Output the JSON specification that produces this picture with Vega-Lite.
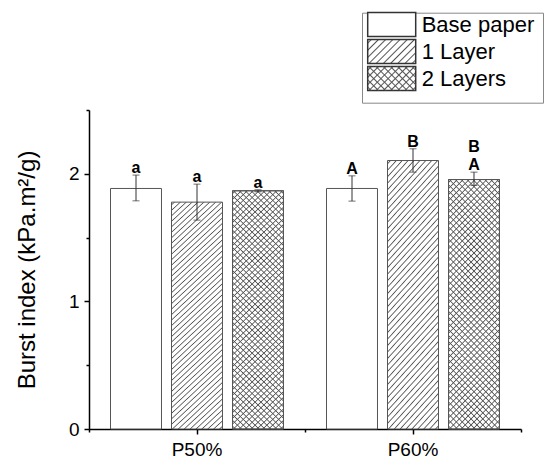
{
  "$schema": "https://vega.github.io/schema/vega-lite/v6.json",
  "width": 432,
  "height": 319,
  "autosize": "none",
  "padding": {"left": 89, "top": 110, "right": 29, "bottom": 38},
  "background": "white",
  "config": {"view": {"stroke": null}, "font": "Liberation Sans"},
  "data": {"values": [
    {"group": "P50%", "layer": "Base paper", "mean": 1.885, "lo": 1.788, "hi": 1.99, "label": "a", "label2": ""},
    {"group": "P50%", "layer": "1 Layer", "mean": 1.778, "lo": 1.637, "hi": 1.919, "label": "a", "label2": ""},
    {"group": "P50%", "layer": "2 Layers", "mean": 1.867, "lo": 1.859, "hi": 1.875, "label": "a", "label2": ""},
    {"group": "P60%", "layer": "Base paper", "mean": 1.885, "lo": 1.786, "hi": 1.984, "label": "A", "label2": ""},
    {"group": "P60%", "layer": "1 Layer", "mean": 2.104, "lo": 2.013, "hi": 2.196, "label": "B", "label2": ""},
    {"group": "P60%", "layer": "2 Layers", "mean": 1.955, "lo": 1.908, "hi": 2.013, "label": "A", "label2": "B"}
  ]},
  "resolve": {"scale": {"shape": "independent"}, "legend": {"shape": "independent"}, "axis": {"x": "independent", "y": "independent"}},
  "layer": [
    {
      "mark": {"type": "bar", "stroke": "#555", "strokeWidth": 1},
      "encoding": {
        "x": {"field": "group", "type": "nominal", "scale": {"paddingInner": 0, "paddingOuter": 0},
          "axis": {"title": null, "labelAngle": 0, "labelFontSize": 19, "labelFont": "Liberation Sans", "labelColor": "#000", "labelPadding": 6, "tickSize": 5, "tickColor": "#000", "tickWidth": 1.5, "domainColor": "#000", "domainWidth": 1.5, "grid": false, "orient": "bottom"}},
        "xOffset": {"field": "layer", "type": "nominal", "scale": {"domain": ["Base paper", "1 Layer", "2 Layers"], "paddingInner": 0.164, "paddingOuter": 0.3525}},
        "y": {"field": "mean", "type": "quantitative", "scale": {"domain": [0, 2.5], "nice": false},
          "axis": {"title": "Burst index (kPa.m²/g)", "titleFontSize": 24, "titleFont": "Liberation Sans", "titleFontWeight": "normal", "titleColor": "#000", "titlePadding": 29, "values": [0, 1, 2], "format": "d", "labelFontSize": 19, "labelFont": "Liberation Sans", "labelColor": "#000", "labelPadding": 5, "tickSize": 5, "tickColor": "#000", "tickWidth": 1.5, "domainColor": "#000", "domainWidth": 1.5, "grid": false, "orient": "left"}},
        "fill": {"condition": {"test": "datum.layer !== 'Base paper'", "value": {"gradient": "linear", "x1": 0, "y1": 0, "x2": 0.2424, "y2": 1.1586, "stops": [
          {"offset":0.006,"color":"#fff"},{"offset":0.010,"color":"#555"},{"offset":0.014,"color":"#fff"},
          {"offset":0.026,"color":"#fff"},{"offset":0.030,"color":"#555"},{"offset":0.034,"color":"#fff"},
          {"offset":0.046,"color":"#fff"},{"offset":0.050,"color":"#555"},{"offset":0.054,"color":"#fff"},
          {"offset":0.066,"color":"#fff"},{"offset":0.070,"color":"#555"},{"offset":0.074,"color":"#fff"},
          {"offset":0.086,"color":"#fff"},{"offset":0.090,"color":"#555"},{"offset":0.094,"color":"#fff"},
          {"offset":0.106,"color":"#fff"},{"offset":0.110,"color":"#555"},{"offset":0.114,"color":"#fff"},
          {"offset":0.126,"color":"#fff"},{"offset":0.130,"color":"#555"},{"offset":0.134,"color":"#fff"},
          {"offset":0.146,"color":"#fff"},{"offset":0.150,"color":"#555"},{"offset":0.154,"color":"#fff"},
          {"offset":0.166,"color":"#fff"},{"offset":0.170,"color":"#555"},{"offset":0.174,"color":"#fff"},
          {"offset":0.186,"color":"#fff"},{"offset":0.190,"color":"#555"},{"offset":0.194,"color":"#fff"},
          {"offset":0.206,"color":"#fff"},{"offset":0.210,"color":"#555"},{"offset":0.214,"color":"#fff"},
          {"offset":0.226,"color":"#fff"},{"offset":0.230,"color":"#555"},{"offset":0.234,"color":"#fff"},
          {"offset":0.246,"color":"#fff"},{"offset":0.250,"color":"#555"},{"offset":0.254,"color":"#fff"},
          {"offset":0.266,"color":"#fff"},{"offset":0.270,"color":"#555"},{"offset":0.274,"color":"#fff"},
          {"offset":0.286,"color":"#fff"},{"offset":0.290,"color":"#555"},{"offset":0.294,"color":"#fff"},
          {"offset":0.306,"color":"#fff"},{"offset":0.310,"color":"#555"},{"offset":0.314,"color":"#fff"},
          {"offset":0.326,"color":"#fff"},{"offset":0.330,"color":"#555"},{"offset":0.334,"color":"#fff"},
          {"offset":0.346,"color":"#fff"},{"offset":0.350,"color":"#555"},{"offset":0.354,"color":"#fff"},
          {"offset":0.366,"color":"#fff"},{"offset":0.370,"color":"#555"},{"offset":0.374,"color":"#fff"},
          {"offset":0.386,"color":"#fff"},{"offset":0.390,"color":"#555"},{"offset":0.394,"color":"#fff"},
          {"offset":0.406,"color":"#fff"},{"offset":0.410,"color":"#555"},{"offset":0.414,"color":"#fff"},
          {"offset":0.426,"color":"#fff"},{"offset":0.430,"color":"#555"},{"offset":0.434,"color":"#fff"},
          {"offset":0.446,"color":"#fff"},{"offset":0.450,"color":"#555"},{"offset":0.454,"color":"#fff"},
          {"offset":0.466,"color":"#fff"},{"offset":0.470,"color":"#555"},{"offset":0.474,"color":"#fff"},
          {"offset":0.486,"color":"#fff"},{"offset":0.490,"color":"#555"},{"offset":0.494,"color":"#fff"},
          {"offset":0.506,"color":"#fff"},{"offset":0.510,"color":"#555"},{"offset":0.514,"color":"#fff"},
          {"offset":0.526,"color":"#fff"},{"offset":0.530,"color":"#555"},{"offset":0.534,"color":"#fff"},
          {"offset":0.546,"color":"#fff"},{"offset":0.550,"color":"#555"},{"offset":0.554,"color":"#fff"},
          {"offset":0.566,"color":"#fff"},{"offset":0.570,"color":"#555"},{"offset":0.574,"color":"#fff"},
          {"offset":0.586,"color":"#fff"},{"offset":0.590,"color":"#555"},{"offset":0.594,"color":"#fff"},
          {"offset":0.606,"color":"#fff"},{"offset":0.610,"color":"#555"},{"offset":0.614,"color":"#fff"},
          {"offset":0.626,"color":"#fff"},{"offset":0.630,"color":"#555"},{"offset":0.634,"color":"#fff"},
          {"offset":0.646,"color":"#fff"},{"offset":0.650,"color":"#555"},{"offset":0.654,"color":"#fff"},
          {"offset":0.666,"color":"#fff"},{"offset":0.670,"color":"#555"},{"offset":0.674,"color":"#fff"},
          {"offset":0.686,"color":"#fff"},{"offset":0.690,"color":"#555"},{"offset":0.694,"color":"#fff"},
          {"offset":0.706,"color":"#fff"},{"offset":0.710,"color":"#555"},{"offset":0.714,"color":"#fff"},
          {"offset":0.726,"color":"#fff"},{"offset":0.730,"color":"#555"},{"offset":0.734,"color":"#fff"},
          {"offset":0.746,"color":"#fff"},{"offset":0.750,"color":"#555"},{"offset":0.754,"color":"#fff"},
          {"offset":0.766,"color":"#fff"},{"offset":0.770,"color":"#555"},{"offset":0.774,"color":"#fff"},
          {"offset":0.786,"color":"#fff"},{"offset":0.790,"color":"#555"},{"offset":0.794,"color":"#fff"},
          {"offset":0.806,"color":"#fff"},{"offset":0.810,"color":"#555"},{"offset":0.814,"color":"#fff"},
          {"offset":0.826,"color":"#fff"},{"offset":0.830,"color":"#555"},{"offset":0.834,"color":"#fff"},
          {"offset":0.846,"color":"#fff"},{"offset":0.850,"color":"#555"},{"offset":0.854,"color":"#fff"},
          {"offset":0.866,"color":"#fff"},{"offset":0.870,"color":"#555"},{"offset":0.874,"color":"#fff"},
          {"offset":0.886,"color":"#fff"},{"offset":0.890,"color":"#555"},{"offset":0.894,"color":"#fff"},
          {"offset":0.906,"color":"#fff"},{"offset":0.910,"color":"#555"},{"offset":0.914,"color":"#fff"},
          {"offset":0.926,"color":"#fff"},{"offset":0.930,"color":"#555"},{"offset":0.934,"color":"#fff"},
          {"offset":0.946,"color":"#fff"},{"offset":0.950,"color":"#555"},{"offset":0.954,"color":"#fff"},
          {"offset":0.966,"color":"#fff"},{"offset":0.970,"color":"#555"},{"offset":0.974,"color":"#fff"},
          {"offset":0.986,"color":"#fff"},{"offset":0.990,"color":"#555"},{"offset":0.994,"color":"#fff"}
        ]}}, "value": "#ffffff"}
      }
    },
    {
      "transform": [{"filter": "datum.layer === '2 Layers'"}],
      "mark": {"type": "bar", "stroke": "#555", "strokeWidth": 1, "fill": {"gradient": "linear", "x1": 0, "y1": 1, "x2": 0.2424, "y2": -0.1586, "stops": [
          {"offset":0.006,"color":"rgba(85,85,85,0)"},{"offset":0.010,"color":"#555"},{"offset":0.014,"color":"rgba(85,85,85,0)"},
          {"offset":0.026,"color":"rgba(85,85,85,0)"},{"offset":0.030,"color":"#555"},{"offset":0.034,"color":"rgba(85,85,85,0)"},
          {"offset":0.046,"color":"rgba(85,85,85,0)"},{"offset":0.050,"color":"#555"},{"offset":0.054,"color":"rgba(85,85,85,0)"},
          {"offset":0.066,"color":"rgba(85,85,85,0)"},{"offset":0.070,"color":"#555"},{"offset":0.074,"color":"rgba(85,85,85,0)"},
          {"offset":0.086,"color":"rgba(85,85,85,0)"},{"offset":0.090,"color":"#555"},{"offset":0.094,"color":"rgba(85,85,85,0)"},
          {"offset":0.106,"color":"rgba(85,85,85,0)"},{"offset":0.110,"color":"#555"},{"offset":0.114,"color":"rgba(85,85,85,0)"},
          {"offset":0.126,"color":"rgba(85,85,85,0)"},{"offset":0.130,"color":"#555"},{"offset":0.134,"color":"rgba(85,85,85,0)"},
          {"offset":0.146,"color":"rgba(85,85,85,0)"},{"offset":0.150,"color":"#555"},{"offset":0.154,"color":"rgba(85,85,85,0)"},
          {"offset":0.166,"color":"rgba(85,85,85,0)"},{"offset":0.170,"color":"#555"},{"offset":0.174,"color":"rgba(85,85,85,0)"},
          {"offset":0.186,"color":"rgba(85,85,85,0)"},{"offset":0.190,"color":"#555"},{"offset":0.194,"color":"rgba(85,85,85,0)"},
          {"offset":0.206,"color":"rgba(85,85,85,0)"},{"offset":0.210,"color":"#555"},{"offset":0.214,"color":"rgba(85,85,85,0)"},
          {"offset":0.226,"color":"rgba(85,85,85,0)"},{"offset":0.230,"color":"#555"},{"offset":0.234,"color":"rgba(85,85,85,0)"},
          {"offset":0.246,"color":"rgba(85,85,85,0)"},{"offset":0.250,"color":"#555"},{"offset":0.254,"color":"rgba(85,85,85,0)"},
          {"offset":0.266,"color":"rgba(85,85,85,0)"},{"offset":0.270,"color":"#555"},{"offset":0.274,"color":"rgba(85,85,85,0)"},
          {"offset":0.286,"color":"rgba(85,85,85,0)"},{"offset":0.290,"color":"#555"},{"offset":0.294,"color":"rgba(85,85,85,0)"},
          {"offset":0.306,"color":"rgba(85,85,85,0)"},{"offset":0.310,"color":"#555"},{"offset":0.314,"color":"rgba(85,85,85,0)"},
          {"offset":0.326,"color":"rgba(85,85,85,0)"},{"offset":0.330,"color":"#555"},{"offset":0.334,"color":"rgba(85,85,85,0)"},
          {"offset":0.346,"color":"rgba(85,85,85,0)"},{"offset":0.350,"color":"#555"},{"offset":0.354,"color":"rgba(85,85,85,0)"},
          {"offset":0.366,"color":"rgba(85,85,85,0)"},{"offset":0.370,"color":"#555"},{"offset":0.374,"color":"rgba(85,85,85,0)"},
          {"offset":0.386,"color":"rgba(85,85,85,0)"},{"offset":0.390,"color":"#555"},{"offset":0.394,"color":"rgba(85,85,85,0)"},
          {"offset":0.406,"color":"rgba(85,85,85,0)"},{"offset":0.410,"color":"#555"},{"offset":0.414,"color":"rgba(85,85,85,0)"},
          {"offset":0.426,"color":"rgba(85,85,85,0)"},{"offset":0.430,"color":"#555"},{"offset":0.434,"color":"rgba(85,85,85,0)"},
          {"offset":0.446,"color":"rgba(85,85,85,0)"},{"offset":0.450,"color":"#555"},{"offset":0.454,"color":"rgba(85,85,85,0)"},
          {"offset":0.466,"color":"rgba(85,85,85,0)"},{"offset":0.470,"color":"#555"},{"offset":0.474,"color":"rgba(85,85,85,0)"},
          {"offset":0.486,"color":"rgba(85,85,85,0)"},{"offset":0.490,"color":"#555"},{"offset":0.494,"color":"rgba(85,85,85,0)"},
          {"offset":0.506,"color":"rgba(85,85,85,0)"},{"offset":0.510,"color":"#555"},{"offset":0.514,"color":"rgba(85,85,85,0)"},
          {"offset":0.526,"color":"rgba(85,85,85,0)"},{"offset":0.530,"color":"#555"},{"offset":0.534,"color":"rgba(85,85,85,0)"},
          {"offset":0.546,"color":"rgba(85,85,85,0)"},{"offset":0.550,"color":"#555"},{"offset":0.554,"color":"rgba(85,85,85,0)"},
          {"offset":0.566,"color":"rgba(85,85,85,0)"},{"offset":0.570,"color":"#555"},{"offset":0.574,"color":"rgba(85,85,85,0)"},
          {"offset":0.586,"color":"rgba(85,85,85,0)"},{"offset":0.590,"color":"#555"},{"offset":0.594,"color":"rgba(85,85,85,0)"},
          {"offset":0.606,"color":"rgba(85,85,85,0)"},{"offset":0.610,"color":"#555"},{"offset":0.614,"color":"rgba(85,85,85,0)"},
          {"offset":0.626,"color":"rgba(85,85,85,0)"},{"offset":0.630,"color":"#555"},{"offset":0.634,"color":"rgba(85,85,85,0)"},
          {"offset":0.646,"color":"rgba(85,85,85,0)"},{"offset":0.650,"color":"#555"},{"offset":0.654,"color":"rgba(85,85,85,0)"},
          {"offset":0.666,"color":"rgba(85,85,85,0)"},{"offset":0.670,"color":"#555"},{"offset":0.674,"color":"rgba(85,85,85,0)"},
          {"offset":0.686,"color":"rgba(85,85,85,0)"},{"offset":0.690,"color":"#555"},{"offset":0.694,"color":"rgba(85,85,85,0)"},
          {"offset":0.706,"color":"rgba(85,85,85,0)"},{"offset":0.710,"color":"#555"},{"offset":0.714,"color":"rgba(85,85,85,0)"},
          {"offset":0.726,"color":"rgba(85,85,85,0)"},{"offset":0.730,"color":"#555"},{"offset":0.734,"color":"rgba(85,85,85,0)"},
          {"offset":0.746,"color":"rgba(85,85,85,0)"},{"offset":0.750,"color":"#555"},{"offset":0.754,"color":"rgba(85,85,85,0)"},
          {"offset":0.766,"color":"rgba(85,85,85,0)"},{"offset":0.770,"color":"#555"},{"offset":0.774,"color":"rgba(85,85,85,0)"},
          {"offset":0.786,"color":"rgba(85,85,85,0)"},{"offset":0.790,"color":"#555"},{"offset":0.794,"color":"rgba(85,85,85,0)"},
          {"offset":0.806,"color":"rgba(85,85,85,0)"},{"offset":0.810,"color":"#555"},{"offset":0.814,"color":"rgba(85,85,85,0)"},
          {"offset":0.826,"color":"rgba(85,85,85,0)"},{"offset":0.830,"color":"#555"},{"offset":0.834,"color":"rgba(85,85,85,0)"},
          {"offset":0.846,"color":"rgba(85,85,85,0)"},{"offset":0.850,"color":"#555"},{"offset":0.854,"color":"rgba(85,85,85,0)"},
          {"offset":0.866,"color":"rgba(85,85,85,0)"},{"offset":0.870,"color":"#555"},{"offset":0.874,"color":"rgba(85,85,85,0)"},
          {"offset":0.886,"color":"rgba(85,85,85,0)"},{"offset":0.890,"color":"#555"},{"offset":0.894,"color":"rgba(85,85,85,0)"},
          {"offset":0.906,"color":"rgba(85,85,85,0)"},{"offset":0.910,"color":"#555"},{"offset":0.914,"color":"rgba(85,85,85,0)"},
          {"offset":0.926,"color":"rgba(85,85,85,0)"},{"offset":0.930,"color":"#555"},{"offset":0.934,"color":"rgba(85,85,85,0)"},
          {"offset":0.946,"color":"rgba(85,85,85,0)"},{"offset":0.950,"color":"#555"},{"offset":0.954,"color":"rgba(85,85,85,0)"},
          {"offset":0.966,"color":"rgba(85,85,85,0)"},{"offset":0.970,"color":"#555"},{"offset":0.974,"color":"rgba(85,85,85,0)"},
          {"offset":0.986,"color":"rgba(85,85,85,0)"},{"offset":0.990,"color":"#555"},{"offset":0.994,"color":"rgba(85,85,85,0)"}
        ]}},
      "encoding": {
        "x": {"field": "group", "type": "nominal", "axis": null},
        "xOffset": {"field": "layer", "type": "nominal", "scale": {"domain": ["Base paper", "1 Layer", "2 Layers"], "paddingInner": 0.164, "paddingOuter": 0.3525}},
        "y": {"field": "mean", "type": "quantitative", "scale": {"domain": [0, 2.5], "nice": false}, "axis": null}
      }
    },
    {
      "mark": {"type": "rule", "color": "#333", "strokeWidth": 1},
      "encoding": {
        "x": {"field": "group", "type": "nominal", "axis": {"title": null, "labels": false, "domain": false, "tickBand": "extent", "tickSize": 3, "tickColor": "#000", "tickWidth": 1.5, "grid": false, "orient": "bottom"}},
        "xOffset": {"field": "layer", "type": "nominal", "scale": {"domain": ["Base paper", "1 Layer", "2 Layers"], "paddingInner": 0.164, "paddingOuter": 0.3525}},
        "y": {"field": "lo", "type": "quantitative", "scale": {"domain": [0, 2.5], "nice": false}, "axis": {"title": null, "values": [0.5, 1.5, 2.5], "labels": false, "domain": false, "tickSize": 3, "tickColor": "#000", "tickWidth": 1.5, "grid": false, "orient": "left"}},
        "y2": {"field": "hi"}
      }
    },
    {
      "mark": {"type": "tick", "size": 7, "thickness": 1, "color": "#333"},
      "encoding": {
        "x": {"field": "group", "type": "nominal", "axis": null},
        "xOffset": {"field": "layer", "type": "nominal", "scale": {"domain": ["Base paper", "1 Layer", "2 Layers"], "paddingInner": 0.164, "paddingOuter": 0.3525}},
        "y": {"field": "hi", "type": "quantitative", "scale": {"domain": [0, 2.5], "nice": false}, "axis": null}
      }
    },
    {
      "mark": {"type": "tick", "size": 7, "thickness": 1, "color": "#333"},
      "encoding": {
        "x": {"field": "group", "type": "nominal", "axis": null},
        "xOffset": {"field": "layer", "type": "nominal", "scale": {"domain": ["Base paper", "1 Layer", "2 Layers"], "paddingInner": 0.164, "paddingOuter": 0.3525}},
        "y": {"field": "lo", "type": "quantitative", "scale": {"domain": [0, 2.5], "nice": false}, "axis": null}
      }
    },
    {
      "mark": {"type": "text", "font": "Liberation Sans", "fontSize": 16, "fontWeight": "bold", "baseline": "alphabetic", "dy": -2, "color": "#000"},
      "encoding": {
        "x": {"field": "group", "type": "nominal", "axis": null},
        "xOffset": {"field": "layer", "type": "nominal", "scale": {"domain": ["Base paper", "1 Layer", "2 Layers"], "paddingInner": 0.164, "paddingOuter": 0.3525}},
        "y": {"field": "hi", "type": "quantitative", "scale": {"domain": [0, 2.5], "nice": false}, "axis": null},
        "text": {"field": "label"}
      }
    },
    {
      "mark": {"type": "text", "font": "Liberation Sans", "fontSize": 16, "fontWeight": "bold", "baseline": "alphabetic", "dy": -20, "color": "#000"},
      "encoding": {
        "x": {"field": "group", "type": "nominal", "axis": null},
        "xOffset": {"field": "layer", "type": "nominal", "scale": {"domain": ["Base paper", "1 Layer", "2 Layers"], "paddingInner": 0.164, "paddingOuter": 0.3525}},
        "y": {"field": "hi", "type": "quantitative", "scale": {"domain": [0, 2.5], "nice": false}, "axis": null},
        "text": {"field": "label2"}
      }
    },
    {
      "transform": [{"filter": "false"}],
      "mark": {"type": "point", "filled": true, "opacity": 1, "fill": "transparent", "stroke": "transparent", "strokeWidth": 1},
      "encoding": {
        "shape": {"field": "layer", "type": "nominal",
          "scale": {"domain": ["Base paper", "1 Layer", "2 Layers"], "range": ["M-2,-1H2V1H-2Z", "M-2,-1H2V1H-2Z", "M-2,-1H2V1H-2Z"]},
          "legend": {"title": null, "orient": "none", "legendX": 273, "legendY": -97.3, "direction": "vertical", "symbolSize": 576, "symbolOffset": 0, "symbolOpacity": 1, "labelExpr": "''", "labelOffset": 149, "labelFont": "Liberation Sans", "labelFontSize": 16, "labelColor": "transparent", "rowPadding": -6, "padding": 3, "strokeColor": "#888"}
        }
      }
    },
    {
      "transform": [{"filter": "false"}],
      "mark": {"type": "point", "filled": true, "opacity": 1, "fill": "#ffffff", "stroke": "#333", "strokeWidth": 1},
      "encoding": {
        "shape": {"field": "layer", "type": "nominal",
          "scale": {"domain": ["Base paper"], "range": ["M-2,-1H2V1H-2Z"]},
          "legend": {"title": null, "orient": "none", "legendX": 277.7, "legendY": -98.5, "direction": "vertical", "symbolSize": 576, "symbolOffset": 12, "symbolOpacity": 1, "labelOffset": 17, "labelFont": "Liberation Sans", "labelFontSize": 22, "labelColor": "#000", "padding": 0}
        }
      }
    },
    {
      "transform": [{"filter": "false"}],
      "mark": {"type": "point", "filled": true, "opacity": 1, "stroke": "#333", "strokeWidth": 1, "fill": {"gradient": "linear", "x1": 0, "y1": 0, "x2": 1.2, "y2": 0.6, "stops": [
                {"offset":0.03,"color":"rgba(85,85,85,0)"},{"offset":0.05,"color":"#555"},{"offset":0.07,"color":"rgba(85,85,85,0)"},
                {"offset":0.13,"color":"rgba(85,85,85,0)"},{"offset":0.15,"color":"#555"},{"offset":0.17,"color":"rgba(85,85,85,0)"},
                {"offset":0.23,"color":"rgba(85,85,85,0)"},{"offset":0.25,"color":"#555"},{"offset":0.27,"color":"rgba(85,85,85,0)"},
                {"offset":0.33,"color":"rgba(85,85,85,0)"},{"offset":0.35,"color":"#555"},{"offset":0.37,"color":"rgba(85,85,85,0)"},
                {"offset":0.43,"color":"rgba(85,85,85,0)"},{"offset":0.45,"color":"#555"},{"offset":0.47,"color":"rgba(85,85,85,0)"},
                {"offset":0.53,"color":"rgba(85,85,85,0)"},{"offset":0.55,"color":"#555"},{"offset":0.57,"color":"rgba(85,85,85,0)"},
                {"offset":0.63,"color":"rgba(85,85,85,0)"},{"offset":0.65,"color":"#555"},{"offset":0.67,"color":"rgba(85,85,85,0)"},
                {"offset":0.73,"color":"rgba(85,85,85,0)"},{"offset":0.75,"color":"#555"},{"offset":0.77,"color":"rgba(85,85,85,0)"},
                {"offset":0.83,"color":"rgba(85,85,85,0)"},{"offset":0.85,"color":"#555"},{"offset":0.87,"color":"rgba(85,85,85,0)"},
                {"offset":0.93,"color":"rgba(85,85,85,0)"},{"offset":0.95,"color":"#555"},{"offset":0.97,"color":"rgba(85,85,85,0)"}
              ]}},
      "encoding": {
        "shape": {"field": "layer", "type": "nominal",
          "scale": {"domain": ["1 Layer"], "range": ["M-2,-1H2V1H-2Z"]},
          "legend": {"title": null, "orient": "none", "legendX": 277.7, "legendY": -71.5, "direction": "vertical", "symbolSize": 576, "symbolOffset": 12, "symbolOpacity": 1, "labelOffset": 17, "labelFont": "Liberation Sans", "labelFontSize": 22, "labelColor": "#000", "padding": 0}
        }
      }
    },
    {
      "transform": [{"filter": "false"}],
      "mark": {"type": "point", "filled": true, "opacity": 1, "stroke": "#333", "strokeWidth": 1, "fill": {"gradient": "linear", "x1": 0, "y1": 0, "x2": 1.2, "y2": 0.6, "stops": [
                {"offset":0.03,"color":"rgba(85,85,85,0)"},{"offset":0.05,"color":"#555"},{"offset":0.07,"color":"rgba(85,85,85,0)"},
                {"offset":0.13,"color":"rgba(85,85,85,0)"},{"offset":0.15,"color":"#555"},{"offset":0.17,"color":"rgba(85,85,85,0)"},
                {"offset":0.23,"color":"rgba(85,85,85,0)"},{"offset":0.25,"color":"#555"},{"offset":0.27,"color":"rgba(85,85,85,0)"},
                {"offset":0.33,"color":"rgba(85,85,85,0)"},{"offset":0.35,"color":"#555"},{"offset":0.37,"color":"rgba(85,85,85,0)"},
                {"offset":0.43,"color":"rgba(85,85,85,0)"},{"offset":0.45,"color":"#555"},{"offset":0.47,"color":"rgba(85,85,85,0)"},
                {"offset":0.53,"color":"rgba(85,85,85,0)"},{"offset":0.55,"color":"#555"},{"offset":0.57,"color":"rgba(85,85,85,0)"},
                {"offset":0.63,"color":"rgba(85,85,85,0)"},{"offset":0.65,"color":"#555"},{"offset":0.67,"color":"rgba(85,85,85,0)"},
                {"offset":0.73,"color":"rgba(85,85,85,0)"},{"offset":0.75,"color":"#555"},{"offset":0.77,"color":"rgba(85,85,85,0)"},
                {"offset":0.83,"color":"rgba(85,85,85,0)"},{"offset":0.85,"color":"#555"},{"offset":0.87,"color":"rgba(85,85,85,0)"},
                {"offset":0.93,"color":"rgba(85,85,85,0)"},{"offset":0.95,"color":"#555"},{"offset":0.97,"color":"rgba(85,85,85,0)"}
              ]}},
      "encoding": {
        "shape": {"field": "layer", "type": "nominal",
          "scale": {"domain": ["2 Layers"], "range": ["M-2,-1H2V1H-2Z"]},
          "legend": {"title": null, "orient": "none", "legendX": 277.7, "legendY": -44.4, "direction": "vertical", "symbolSize": 576, "symbolOffset": 12, "symbolOpacity": 1, "labelOffset": 17, "labelFont": "Liberation Sans", "labelFontSize": 22, "labelColor": "#000", "padding": 0}
        }
      }
    },
    {
      "transform": [{"filter": "false"}],
      "mark": {"type": "point", "filled": true, "opacity": 1, "stroke": "transparent", "strokeWidth": 1, "fill": {"gradient": "linear", "x1": 0, "y1": 1, "x2": 1.2, "y2": 0.4, "stops": [
                {"offset":0.03,"color":"rgba(85,85,85,0)"},{"offset":0.05,"color":"#555"},{"offset":0.07,"color":"rgba(85,85,85,0)"},
                {"offset":0.13,"color":"rgba(85,85,85,0)"},{"offset":0.15,"color":"#555"},{"offset":0.17,"color":"rgba(85,85,85,0)"},
                {"offset":0.23,"color":"rgba(85,85,85,0)"},{"offset":0.25,"color":"#555"},{"offset":0.27,"color":"rgba(85,85,85,0)"},
                {"offset":0.33,"color":"rgba(85,85,85,0)"},{"offset":0.35,"color":"#555"},{"offset":0.37,"color":"rgba(85,85,85,0)"},
                {"offset":0.43,"color":"rgba(85,85,85,0)"},{"offset":0.45,"color":"#555"},{"offset":0.47,"color":"rgba(85,85,85,0)"},
                {"offset":0.53,"color":"rgba(85,85,85,0)"},{"offset":0.55,"color":"#555"},{"offset":0.57,"color":"rgba(85,85,85,0)"},
                {"offset":0.63,"color":"rgba(85,85,85,0)"},{"offset":0.65,"color":"#555"},{"offset":0.67,"color":"rgba(85,85,85,0)"},
                {"offset":0.73,"color":"rgba(85,85,85,0)"},{"offset":0.75,"color":"#555"},{"offset":0.77,"color":"rgba(85,85,85,0)"},
                {"offset":0.83,"color":"rgba(85,85,85,0)"},{"offset":0.85,"color":"#555"},{"offset":0.87,"color":"rgba(85,85,85,0)"},
                {"offset":0.93,"color":"rgba(85,85,85,0)"},{"offset":0.95,"color":"#555"},{"offset":0.97,"color":"rgba(85,85,85,0)"}
              ]}},
      "encoding": {
        "shape": {"field": "layer", "type": "nominal",
          "scale": {"domain": ["2 Layers"], "range": ["M-2,-1H2V1H-2Z"]},
          "legend": {"title": null, "orient": "none", "legendX": 277.7, "legendY": -44.4, "direction": "vertical", "symbolSize": 576, "symbolOffset": 12, "symbolOpacity": 1, "labelExpr": "''", "labelOffset": 17, "labelFont": "Liberation Sans", "labelFontSize": 22, "labelColor": "transparent", "padding": 0}
        }
      }
    }
  ]
}
